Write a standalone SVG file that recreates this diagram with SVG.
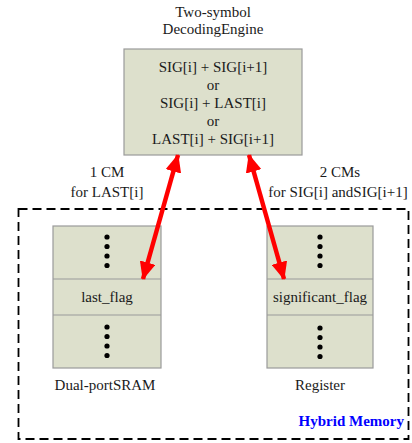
<svg xmlns="http://www.w3.org/2000/svg" width="412" height="443" viewBox="0 0 412 443" font-family="Liberation Serif, Times New Roman, serif">
<style>
text{font-family:'Liberation Serif','Times New Roman',Times,serif;font-size:15px;fill:#1a1a1a;text-anchor:middle}
.box{fill:#dde0cc;stroke:#9a9a9a;stroke-width:1.2}
.div{stroke:#9a9a9a;stroke-width:1.2}
.dot{fill:#000}
.arrow{stroke:#ff0000;stroke-width:4.5;fill:none;marker-start:url(#ah);marker-end:url(#ah)}
.hm{font-weight:bold;fill:#0000ff;text-anchor:end}
</style>
<defs>
<marker id="ah" viewBox="0 0 18 16" refX="17" refY="8" markerWidth="18" markerHeight="16" markerUnits="userSpaceOnUse" orient="auto-start-reverse">
<path d="M0,0 L18,8 L0,16 Z" fill="#ff0000"/>
</marker>
</defs>
<rect width="412" height="443" fill="#fff"/>
<g id="hybrid-memory">
<rect x="18.5" y="209" width="390" height="230" fill="none" stroke="#000" stroke-width="1.8" stroke-dasharray="9,5"/>
<text class="hm" x="404" y="426">Hybrid Memory</text>
</g>
<g id="decoding-engine">
<text x="213" y="17">Two-symbol</text>
<text x="213" y="34">DecodingEngine</text>
<rect class="box" x="124" y="49" width="178" height="106"/>
<text x="213" y="72">SIG[i] + SIG[i+1]</text>
<text x="213" y="90">or</text>
<text x="213" y="108">SIG[i] + LAST[i]</text>
<text x="213" y="126">or</text>
<text x="213" y="144">LAST[i] + SIG[i+1]</text>
</g>
<g id="sram">
<rect class="box" x="53" y="226" width="108" height="142"/>
<line class="div" x1="53" y1="279" x2="161" y2="279"/>
<line class="div" x1="53" y1="315" x2="161" y2="315"/>
<circle class="dot" cx="107" cy="237" r="2.6"/>
<circle class="dot" cx="107" cy="246.5" r="2.6"/>
<circle class="dot" cx="107" cy="256" r="2.6"/>
<circle class="dot" cx="107" cy="265.5" r="2.6"/>
<text x="107" y="302">last_flag</text>
<circle class="dot" cx="107" cy="327" r="2.6"/>
<circle class="dot" cx="107" cy="336.5" r="2.6"/>
<circle class="dot" cx="107" cy="346" r="2.6"/>
<circle class="dot" cx="107" cy="355.5" r="2.6"/>
<text x="105" y="390">Dual-portSRAM</text>
</g>
<g id="register">
<rect class="box" x="267" y="226" width="106" height="142"/>
<line class="div" x1="267" y1="279" x2="373" y2="279"/>
<line class="div" x1="267" y1="315" x2="373" y2="315"/>
<circle class="dot" cx="320" cy="237" r="2.6"/>
<circle class="dot" cx="320" cy="246.5" r="2.6"/>
<circle class="dot" cx="320" cy="256" r="2.6"/>
<circle class="dot" cx="320" cy="265.5" r="2.6"/>
<text x="320" y="302">significant_flag</text>
<circle class="dot" cx="320" cy="328" r="2.6"/>
<circle class="dot" cx="320" cy="337.5" r="2.6"/>
<circle class="dot" cx="320" cy="347" r="2.6"/>
<circle class="dot" cx="320" cy="356.5" r="2.6"/>
<text x="320" y="390">Register</text>
</g>
<g id="connectors">
<line class="arrow" x1="178" y1="155" x2="143" y2="279"/>
<line class="arrow" x1="249" y1="155" x2="284" y2="279"/>
<text x="107" y="177">1 CM</text>
<text x="107" y="197">for LAST[i]</text>
<text x="340" y="177">2 CMs</text>
<text x="338" y="197">for SIG[i] andSIG[i+1]</text>
</g>
</svg>
